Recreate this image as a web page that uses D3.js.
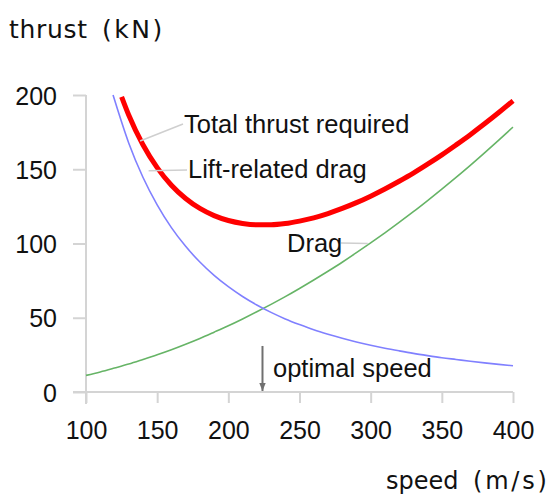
<!DOCTYPE html>
<html>
<head>
<meta charset="utf-8">
<script src="https://cdn.jsdelivr.net/npm/d3@7"></script>
<style>
  body { margin: 0; background: #fff; }
  svg { display: block; }
</style>
</head>
<body>
<svg width="549" height="498"></svg>
<script>
// dati: velocità (m/s) e spinta (kN)
const speeds = [100, 110, 120, 130, 140, 150, 160, 170, 180, 190, 200, 210, 220, 230, 240, 250,
  260, 270, 280, 290, 300, 310, 320, 330, 340, 350, 360, 370, 380, 390, 400];

// resistenza (verde)
const drag = [11.2, 13.5, 16.1, 18.8, 21.9, 25.1, 28.5, 32.2, 36.1, 40.3, 44.6, 49.2, 54.0, 59.0, 64.2, 69.7,
  75.4, 81.3, 87.4, 93.8, 100.4, 107.2, 114.2, 121.4, 128.9, 136.6, 144.5, 152.6, 161.0, 169.6, 178.4];

// resistenza indotta dalla portanza (blu), parte da 119 m/s
const liftSpeeds = [119, 120, 130, 140, 150, 160, 170, 180, 190, 200, 210, 220, 230, 240, 250,
  260, 270, 280, 290, 300, 310, 320, 330, 340, 350, 360, 370, 380, 390, 400];
const liftDrag = [200.0, 196.9, 167.7, 144.6, 126.0, 110.7, 98.1, 87.5, 78.5, 70.9, 64.3, 58.6, 53.6, 49.2, 45.4,
  41.9, 38.9, 36.2, 33.7, 31.5, 29.5, 27.7, 26.0, 24.5, 23.1, 21.9, 20.7, 19.6, 18.6, 17.7];

// spinta totale (rossa), parte da 125 m/s
const totalSpeeds = [125, 130, 140, 150, 160, 170, 180, 190, 200, 210, 220, 230, 240, 250,
  260, 270, 280, 290, 300, 310, 320, 330, 340, 350, 360, 370, 380, 390, 400];
const total = [198.8, 186.5, 166.5, 151.1, 139.2, 130.3, 123.6, 118.8, 115.5, 113.5, 112.6, 112.6, 113.4, 115.1,
  117.3, 120.2, 123.6, 127.5, 131.9, 136.7, 141.9, 147.4, 153.4, 159.7, 166.4, 173.3, 180.6, 188.2, 196.1];

const xTicks = [100, 150, 200, 250, 300, 350, 400];
const yTicks = [0, 50, 100, 150, 200];
const optimalSpeed = 224;

const svg = d3.select("svg");

const x = d3.scaleLinear().domain([100, 400]).range([86, 513]);
const y = d3.scaleLinear().domain([0, 200]).range([392, 95]);

const axisColor = "#d4d4d4";

// assi (stile "a croce": le linee escono oltre l'origine)
svg.append("line")
  .attr("x1", x(100) - 13).attr("x2", x(400))
  .attr("y1", y(0)).attr("y2", y(0))
  .attr("stroke", axisColor).attr("stroke-width", 2);
svg.append("line")
  .attr("x1", x(100)).attr("x2", x(100))
  .attr("y1", y(200)).attr("y2", y(0) + 12)
  .attr("stroke", axisColor).attr("stroke-width", 2);

const gx = svg.append("g")
  .attr("transform", `translate(0,${y(0)})`)
  .call(d3.axisBottom(x).tickValues(xTicks).tickSize(11).tickPadding(18).tickSizeOuter(0));
const gy = svg.append("g")
  .attr("transform", `translate(${x(100)},0)`)
  .call(d3.axisLeft(y).tickValues(yTicks).tickSize(13).tickPadding(16).tickSizeOuter(0));

[gx, gy].forEach(g => {
  g.select(".domain").remove();
  g.selectAll(".tick line").attr("stroke", axisColor).attr("stroke-width", 2);
  g.selectAll(".tick text")
    .attr("fill", "#111")
    .style("font-family", "'Liberation Sans', Arial, sans-serif")
    .style("font-size", "25px");
});
gy.selectAll(".tick text").attr("dy", "0.36em");

// curve
const line = d3.line().curve(d3.curveMonotoneX);

svg.append("path")
  .attr("d", line(speeds.map((s, i) => [x(s), y(drag[i])])))
  .attr("fill", "none").attr("stroke", "#66b466").attr("stroke-width", 1.6);

svg.append("path")
  .attr("d", line(liftSpeeds.map((s, i) => [x(s), y(liftDrag[i])])))
  .attr("fill", "none").attr("stroke", "#8080ff").attr("stroke-width", 1.6);

svg.append("path")
  .attr("d", line(totalSpeeds.map((s, i) => [x(s), y(total[i])])))
  .attr("fill", "none").attr("stroke", "#ff0000").attr("stroke-width", 5);

// etichette con linee guida
const labels = [
  { text: "Total thrust required", from: [138, 169], to: [183, 124], tx: 184, ty: 133 },
  { text: "Lift-related drag", from: [144, 149], to: [187, 170], tx: 188, ty: 178 },
  { text: "Drag", from: [298, 100], to: [341, 243], tx: 287, ty: 252 }
];

labels.forEach(l => {
  svg.append("line")
    .attr("x1", x(l.from[0])).attr("y1", y(l.from[1]))
    .attr("x2", l.to[0]).attr("y2", l.to[1])
    .attr("stroke", "#cfcfcf").attr("stroke-width", 1.5);
  svg.append("text")
    .attr("x", l.tx).attr("y", l.ty)
    .attr("fill", "#111")
    .style("font-family", "'Liberation Sans', Arial, sans-serif")
    .style("font-size", "25.5px")
    .text(l.text);
});

// freccia velocità ottimale
svg.append("defs").append("marker")
  .attr("id", "arrow")
  .attr("viewBox", "0 0 10 10")
  .attr("refX", 10).attr("refY", 5)
  .attr("markerWidth", 4).attr("markerHeight", 4)
  .attr("orient", "auto")
  .append("path")
  .attr("d", "M0,1 L10,5 L0,9 Z")
  .attr("fill", "#707070");

svg.append("line")
  .attr("x1", x(optimalSpeed)).attr("x2", x(optimalSpeed))
  .attr("y1", y(31)).attr("y2", y(0) - 1)
  .attr("stroke", "#707070").attr("stroke-width", 2)
  .attr("marker-end", "url(#arrow)");

svg.append("text")
  .attr("x", 273).attr("y", 377)
  .attr("fill", "#111")
  .style("font-family", "'Liberation Sans', Arial, sans-serif")
  .style("font-size", "25.5px")
  .text("optimal speed");

// titoli degli assi
const axisFont = "'DejaVu Sans', sans-serif";

svg.append("text")
  .attr("x", 9).attr("y", 38)
  .attr("fill", "#111")
  .style("font-family", axisFont).style("font-size", "25px")
  .style("letter-spacing", "0.7px")
  .text("thrust");
svg.append("text")
  .attr("x", 102).attr("y", 38)
  .attr("fill", "#111")
  .style("font-family", axisFont).style("font-size", "25px")
  .style("letter-spacing", "2.5px")
  .text("(kN)");

svg.append("text")
  .attr("x", 386).attr("y", 489)
  .attr("fill", "#111")
  .style("font-family", axisFont).style("font-size", "24px")
  .text("speed");
svg.append("text")
  .attr("x", 473).attr("y", 489)
  .attr("fill", "#111")
  .style("font-family", axisFont).style("font-size", "24px")
  .style("letter-spacing", "2.8px")
  .text("(m/s)");
</script>
</body>
</html>
